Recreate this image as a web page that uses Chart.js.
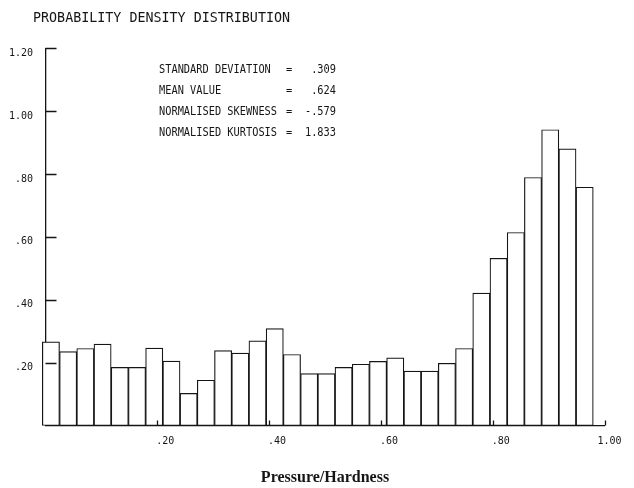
<!DOCTYPE html>
<html>
<head>
<meta charset="utf-8">
<title>Probability density distribution</title>
<script src="https://cdn.jsdelivr.net/npm/chart.js@4.4.1/dist/chart.umd.min.js"></script>
<style>
  html, body { margin: 0; padding: 0; background: #ffffff; }
  canvas { display: block; }
</style>
</head>
<body>
<canvas id="pdd" width="634" height="488"></canvas>
<script>
// Histogram bin centres (pressure/hardness ratio)
const binCentres = [
  0.0097, 0.0405, 0.0713, 0.1021, 0.1329, 0.1637, 0.1945, 0.2253,
  0.2561, 0.2869, 0.3177, 0.3485, 0.3793, 0.4101, 0.4409, 0.4717,
  0.5025, 0.5333, 0.5641, 0.5949, 0.6257, 0.6565, 0.6873, 0.7181,
  0.7489, 0.7797, 0.8105, 0.8413, 0.8721, 0.9029, 0.9337, 0.9645
];

// Probability density in each bin
const density = [
  0.266, 0.235, 0.245, 0.259, 0.185, 0.185, 0.246, 0.205,
  0.102, 0.144, 0.238, 0.230, 0.269, 0.308, 0.226, 0.165,
  0.165, 0.185, 0.195, 0.204, 0.215, 0.173, 0.173, 0.198,
  0.245, 0.421, 0.532, 0.614, 0.789, 0.941, 0.880, 0.758
];

// Axis tick values and their printed labels
const xTickValues = [0.2, 0.4, 0.6, 0.8, 1.0];
const xTickLabels = [' .20', ' .40', ' .60', ' .80', '1.00'];
const yTickValues = [0.2, 0.4, 0.6, 0.8, 1.0, 1.2];
const yTickLabels = ['.20', '.40', '.60', '.80', '1.00', '1.20'];

// Summary statistics printed in the plot
const statNames  = ['STANDARD DEVIATION', 'MEAN VALUE', 'NORMALISED SKEWNESS', 'NORMALISED KURTOSIS'];
const statValues = ['.309', '.624', '-.579', '1.833'];

const chartTitle = 'PROBABILITY DENSITY DISTRIBUTION';
const xAxisTitle = 'Pressure/Hardness';

const INK = '#151515';
const MONO = '"DejaVu Sans Mono", "Liberation Mono", monospace';

function labelFor(values, labels, v) {
  for (let i = 0; i < values.length; i++) {
    if (Math.abs(values[i] - v) < 1e-6) return labels[i];
  }
  return '';
}

// Draw text squeezed horizontally, like a pen-plotter character set
function condensedText(ctx, text, x, y, align, squeeze) {
  ctx.save();
  ctx.translate(x, y);
  ctx.scale(squeeze, 1);
  ctx.textAlign = align;
  ctx.fillText(text, 0, 0);
  ctx.restore();
}

// Title, statistics block and inward-pointing tick marks
const plotterMarks = {
  id: 'plotterMarks',
  afterDraw(chart) {
    const { ctx, chartArea, scales } = chart;
    const xs = scales.x, ys = scales.y;
    ctx.save();
    ctx.strokeStyle = INK;
    ctx.lineWidth = 1.3;
    ctx.beginPath();
    yTickValues.forEach(v => {
      const y = Math.round(ys.getPixelForValue(v)) + 0.5;
      ctx.moveTo(chartArea.left, y);
      ctx.lineTo(chartArea.left + 11, y);
    });
    xTickValues.forEach(v => {
      const x = Math.round(xs.getPixelForValue(v)) + 0.5;
      ctx.moveTo(x, chartArea.bottom);
      ctx.lineTo(x, chartArea.bottom - 5);
    });
    ctx.stroke();

    ctx.fillStyle = INK;
    ctx.textBaseline = 'middle';
    ctx.font = '14.5px ' + MONO;
    condensedText(ctx, chartTitle, 33, 18, 'left', 0.92);

    ctx.font = '12px ' + MONO;
    const rows = [69.5, 90.7, 111.7, 132.7];
    statNames.forEach((name, i) => {
      condensedText(ctx, name, 159, rows[i], 'left', 0.86);
      condensedText(ctx, '=', 289, rows[i], 'center', 0.86);
      condensedText(ctx, statValues[i], 336, rows[i], 'right', 0.86);
    });
    ctx.restore();
  }
};

new Chart(document.getElementById('pdd'), {
  type: 'bar',
  data: {
    datasets: [{
      data: density.map((d, i) => ({ x: binCentres[i], y: d })),
      backgroundColor: '#ffffff',
      borderColor: INK,
      borderWidth: 1.2,
      borderSkipped: false,
      barPercentage: 1,
      categoryPercentage: 1,
      clip: false
    }]
  },
  options: {
    responsive: false,
    animation: false,
    devicePixelRatio: 1,
    layout: { padding: { top: 48.3, right: 29.5, bottom: 0, left: 0 } },
    plugins: {
      legend: { display: false },
      tooltip: { enabled: false },
      title: { display: false }
    },
    scales: {
      x: {
        type: 'linear',
        position: 'bottom',
        min: 0,
        max: 1,
        offset: false,
        z: 1,
        grid: { display: false, drawTicks: false, offset: false },
        border: { display: true, color: INK, width: 1.3 },
        ticks: {
          stepSize: 0.2,
          autoSkip: false,
          maxRotation: 0,
          padding: 10,
          labelOffset: 5,
          color: INK,
          font: { family: MONO, size: 10 },
          callback: v => labelFor(xTickValues, xTickLabels, v)
        },
        title: {
          display: true,
          text: xAxisTitle,
          color: INK,
          font: { family: '"Liberation Serif", "Times New Roman", serif', size: 16, weight: 'bold' },
          padding: { top: 0, bottom: 1 }
        },
        afterFit(s) { s.height = 62.5; s.paddingLeft = 0; s.paddingRight = 0; }
      },
      y: {
        type: 'linear',
        min: 0,
        max: 1.2,
        z: 1,
        grid: { display: false, drawTicks: false },
        border: { display: true, color: INK, width: 1.3 },
        ticks: {
          stepSize: 0.2,
          padding: 12.5,
          labelOffset: 5,
          color: INK,
          font: { family: MONO, size: 10 },
          callback: v => labelFor(yTickValues, yTickLabels, v)
        },
        afterFit(s) { s.width = 45.5; s.paddingTop = 0; s.paddingBottom = 0; }
      }
    }
  },
  plugins: [plotterMarks]
});
</script>
</body>
</html>
